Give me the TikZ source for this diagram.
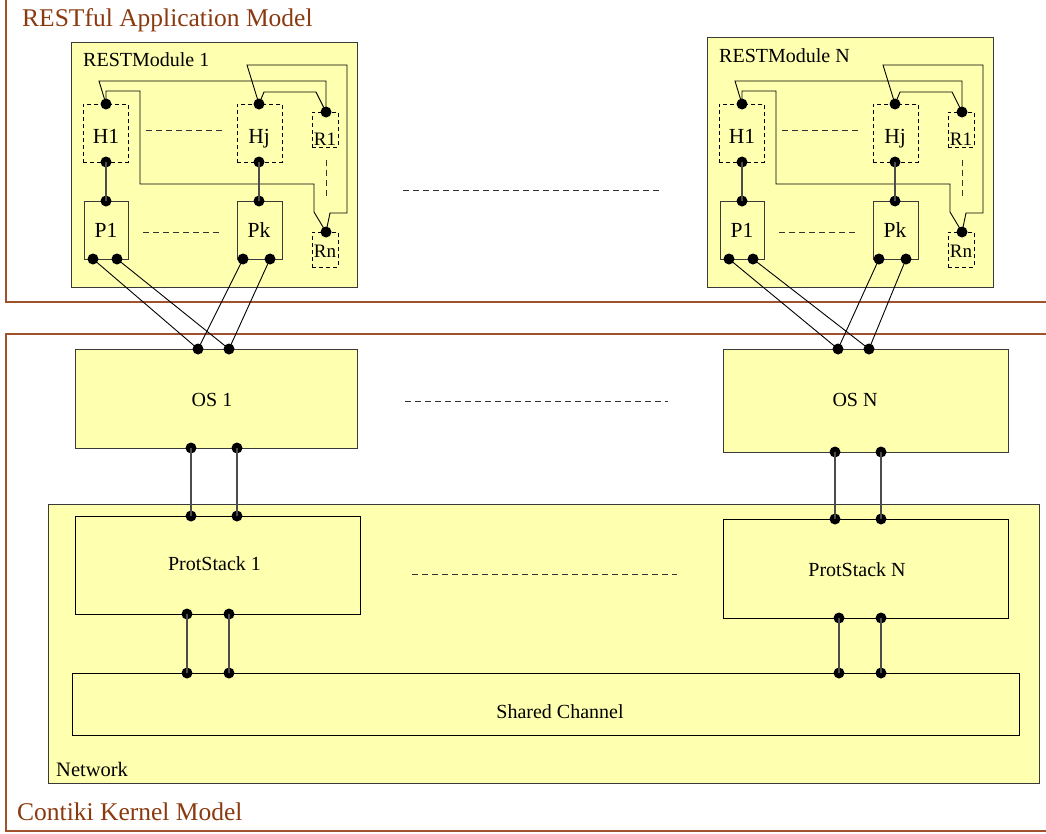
\documentclass[tikz,border=0pt]{standalone}
\usepackage{fontspec}
\setmainfont{Liberation Serif}
\definecolor{fillY}{HTML}{FFFFB0}
\definecolor{frameC}{HTML}{A0522D}
\definecolor{titleC}{HTML}{8B3A0F}
\definecolor{edgeC}{HTML}{3A3A3A}
\tikzset{
  tbox/.style={draw=edgeC, fill=fillY, line width=1.2pt, inner sep=0pt, anchor=north west},
  dbox/.style={draw=black, dash pattern=on 4pt off 3pt, fill=fillY, line width=0.9pt, inner sep=0pt, anchor=north west},
  jdot/.style={circle, fill=black, inner sep=0pt, minimum size=11pt},
  conn/.style={line width=0.9pt, draw=black},
  vconn/.style={line width=1.4pt, draw=black!70},
  dline/.style={line width=1pt, draw=black!80, dash pattern=on 6pt off 4pt},
  lbl/.style={font=\fontsize{20pt}{24pt}\selectfont, inner sep=0pt, anchor=base},
  mlbl/.style={font=\fontsize{21.5pt}{25pt}\selectfont, inner sep=0pt, anchor=base},
  rlbl/.style={font=\fontsize{19pt}{22pt}\selectfont, inner sep=0pt, anchor=base},
  ttl/.style={font=\fontsize{25.5pt}{30pt}\selectfont, text=titleC, inner sep=0pt, anchor=base west},
  frame/.style={draw=frameC, line width=1.2pt}
}
% #1 prefix, #2 xshift, #3 box top, #4 label, #5 label baseline
\newcommand\RMod[5]{%
\begin{scope}[shift={(#2,0)}, name prefix=#1-]
  \node[tbox, minimum width=286pt, minimum height={287pt-#3pt}] (box) at (71,#3) {};
  \node[lbl, anchor=base west] (title) at (83,#5) {#4};
  \node[dbox, minimum width=45pt, minimum height=58pt] (h1) at (83,104) {};
  \node[dbox, minimum width=45pt, minimum height=58pt] (hj) at (237,104) {};
  \node[dbox, minimum width=26pt, minimum height=35pt] (r1) at (312,112) {};
  \node[dbox, minimum width=26pt, minimum height=35pt] (rn) at (312,232) {};
  \node[tbox, minimum width=44pt, minimum height=58pt] (p1) at (84,201) {};
  \node[tbox, minimum width=45pt, minimum height=58pt] (pk) at (237,201) {};
  \node[mlbl] (h1l) at (106,143) {H1};
  \node[mlbl] (hjl) at (259,143) {Hj};
  \node[rlbl] (r1l) at (325,145) {R1};
  \node[rlbl] (rnl) at (325,257) {Rn};
  \node[mlbl] (p1l) at (106,237) {P1};
  \node[mlbl] (pkl) at (259,237) {Pk};
  \draw[dline] (146,130) -- (223,130);
  \draw[dline] (143,232) -- (220,232);
  \draw[dline] (326,160) -- (326,197);
  \node[jdot] (h1t) at (106,104) {};
  \node[jdot] (h1b) at (106,162) {};
  \node[jdot] (p1t) at (106,201) {};
  \node[jdot] (p1b1) at (93,259) {};
  \node[jdot] (p1b2) at (117,259) {};
  \node[jdot] (hjt) at (259,104) {};
  \node[jdot] (hjb) at (259,162) {};
  \node[jdot] (pkt) at (259,201) {};
  \node[jdot] (pkb1) at (243,259) {};
  \node[jdot] (pkb2) at (270,259) {};
  \node[jdot] (r1t) at (326,112) {};
  \node[jdot] (rnt) at (326,232) {};
  \draw[conn] (h1t.center) -- (99,81) -- (326,81) -- (r1t.center);
  \draw[conn] (h1t.center) -- (106,91) -- (140,91) -- (140,184) -- (314,184) -- (314,212) -- (rnt.center);
  \draw[conn] (hjt.center) -- (247,65) -- (347,65) -- (347,213) -- (330,213) -- (rnt.center);
  \draw[conn] (hjt.center) -- (264,92) -- (316,92) -- (r1t.center);
  \draw[vconn] (h1b.center) -- (p1t.center);
  \draw[vconn] (hjb.center) -- (pkt.center);
\end{scope}}
\begin{document}
\begin{tikzpicture}[x=1pt, y=-1pt]
\useasboundingbox (0,0) rectangle (1046,833);
\fill[white] (0,0) rectangle (1046,833);
% frames
\draw[frame] (6,-10) rectangle (1060,302);
\draw[frame] (6,334) rectangle (1060,831);
\node[ttl] (apptitle) at (22,26) {RESTful Application Model};
\node[ttl] (kertitle) at (17,820) {Contiki Kernel Model};
% network
\node[tbox, minimum width=991pt, minimum height=279pt] (net) at (48,504) {};
\node[lbl, anchor=base west, font=\fontsize{20.5pt}{24pt}\selectfont] (netl) at (56,776) {Network};
\node[tbox, draw=black, minimum width=947pt, minimum height=62pt] (sc) at (72,673) {};
\node[lbl] (scl) at (560,718) {Shared Channel};
% protocol stacks
\node[tbox, draw=black, minimum width=285pt, minimum height=98pt] (ps1) at (75,516) {};
\node[lbl] (ps1l) at (214.5,570) {ProtStack 1};
\node[tbox, draw=black, minimum width=285pt, minimum height=99pt] (psn) at (723,519) {};
\node[lbl] (psnl) at (857,576) {ProtStack N};
% OS
\node[tbox, minimum width=282pt, minimum height=99pt] (os1) at (75,349) {};
\node[lbl] (os1l) at (212,406) {OS 1};
\node[tbox, minimum width=285pt, minimum height=103pt] (osn) at (723,349) {};
\node[lbl] (osnl) at (855,406) {OS N};
% modules
\RMod{m1}{0}{42}{RESTModule 1}{66}
\RMod{mn}{636}{37}{RESTModule N}{62}
% ellipsis lines
\draw[dline] (403,190) -- (661,190);
\draw[dline] (405,401) -- (668,401);
\draw[dline] (412,574) -- (677,574);
% dots on OS, stacks, channel
\node[jdot] (os1t1) at (198,349) {};
\node[jdot] (os1t2) at (229,349) {};
\node[jdot] (os1b1) at (191,448) {};
\node[jdot] (os1b2) at (237,448) {};
\node[jdot] (osnt1) at (838,349) {};
\node[jdot] (osnt2) at (869,349) {};
\node[jdot] (osnb1) at (835,452) {};
\node[jdot] (osnb2) at (881,452) {};
\node[jdot] (ps1t1) at (191,516) {};
\node[jdot] (ps1t2) at (237,516) {};
\node[jdot] (ps1b1) at (187,614) {};
\node[jdot] (ps1b2) at (229,614) {};
\node[jdot] (psnt1) at (835,519) {};
\node[jdot] (psnt2) at (881,519) {};
\node[jdot] (psnb1) at (839,618) {};
\node[jdot] (psnb2) at (881,618) {};
\node[jdot] (sc1) at (187,673) {};
\node[jdot] (sc2) at (229,673) {};
\node[jdot] (sc3) at (839,673) {};
\node[jdot] (sc4) at (881,673) {};
% connectors modules -> OS
\draw[conn] (m1-p1b1.center) -- (os1t1.center);
\draw[conn] (m1-p1b2.center) -- (os1t2.center);
\draw[conn] (m1-pkb1.center) -- (os1t1.center);
\draw[conn] (m1-pkb2.center) -- (os1t2.center);
\draw[conn] (mn-p1b1.center) -- (osnt1.center);
\draw[conn] (mn-p1b2.center) -- (osnt2.center);
\draw[conn] (mn-pkb1.center) -- (osnt1.center);
\draw[conn] (mn-pkb2.center) -- (osnt2.center);
% OS -> stacks -> channel
\draw[vconn] (os1b1.center) -- (ps1t1.center);
\draw[vconn] (os1b2.center) -- (ps1t2.center);
\draw[vconn] (osnb1.center) -- (psnt1.center);
\draw[vconn] (osnb2.center) -- (psnt2.center);
\draw[vconn] (ps1b1.center) -- (sc1.center);
\draw[vconn] (ps1b2.center) -- (sc2.center);
\draw[vconn] (psnb1.center) -- (sc3.center);
\draw[vconn] (psnb2.center) -- (sc4.center);
\end{tikzpicture}
\end{document}
